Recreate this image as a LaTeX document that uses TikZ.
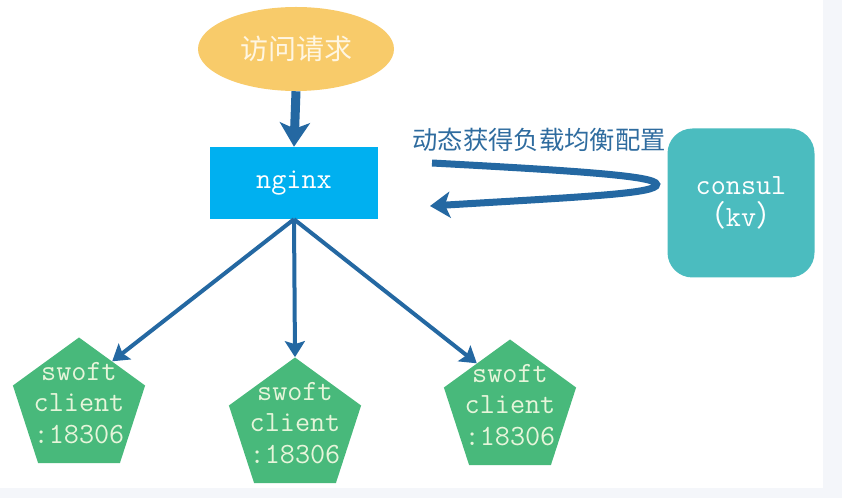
\documentclass[tikz,border=0pt]{standalone}
\usepackage{fontspec}
\newfontfamily\cjk{Noto Sans CJK SC}
\usetikzlibrary{shapes.geometric,arrows.meta}
\definecolor{reqfill}{HTML}{F8CB6A}
\definecolor{reqtext}{HTML}{FFF6E2}
\definecolor{nginxfill}{HTML}{00B0F0}
\definecolor{consulfill}{HTML}{4BBCBF}
\definecolor{swoftfill}{HTML}{48B97B}
\definecolor{swofttext}{HTML}{E6F5DA}
\definecolor{flowblue}{HTML}{2468A2}
\definecolor{lblblue}{HTML}{2F6C9F}
\definecolor{edgegray}{HTML}{F4F6FA}
\def\px{0.75pt}
\tikzset{
  req/.style={ellipse, fill=reqfill, minimum width=196*\px, minimum height=84*\px,
    text=reqtext, font=\cjk\fontsize{21}{24}\selectfont},
  proxy/.style={rectangle, fill=nginxfill, minimum width=168*\px, minimum height=72*\px,
    text=white, font=\ttfamily\fontsize{22}{24}\selectfont},
  kvstore/.style={rectangle, rounded corners=25*\px, fill=consulfill, minimum width=147*\px,
    minimum height=149*\px, text=white, align=center, font=\ttfamily\fontsize{22}{24}\selectfont},
  pent/.style={regular polygon, regular polygon sides=5, fill=swoftfill, draw=none,
    inner sep=0pt, minimum size=139*\px},
  penttxt/.style={text=swofttext, align=center, inner sep=0pt,
    font=\ttfamily\fontsize{22}{23.5}\selectfont},
  lbl/.style={text=lblblue, font=\cjk\fontsize{19}{22}\selectfont},
  bigflow/.style={flowblue, line width=9*\px, -{Stealth[length=24*\px, width=30*\px, inset=6*\px]}},
  backflow/.style={flowblue, line width=7*\px, -{Stealth[length=20*\px, width=26*\px, inset=5*\px]}},
  edge/.style={flowblue, line width=4*\px, -{Stealth[length=16*\px, width=20*\px, inset=3*\px]}},
}
\begin{document}
\begin{tikzpicture}[x=0.75pt, y=-0.75pt]
  \useasboundingbox (0,0) rectangle (842,498);
  \fill[white] (0,0) rectangle (842,498);
  \fill[edgegray] (823,0) rectangle (842,498);
  \fill[edgegray] (0,488) rectangle (842,498);

  \node[req] (req) at (296,49) {访问请求};
  \node[proxy] (nginx) at (294,183) {nginx};
  \node[kvstore] (consul) at (741,203) {consul\\{\cjk （}kv{\cjk ）}};
  \node[lbl] (cfg) at (539,140) {动态获得负载均衡配置};

  \foreach \i/\x/\y in {1/79/407, 2/295/427, 3/510/409}{
    \node[pent] (p\i) at (\x,\y) {};
    \node[penttxt] (t\i) at (\x,\y-4) {swoft\\client\\:18306};
  }

  \draw[bigflow] (req.south) -- (nginx.north);

  %% config coming back from consul
  \coordinate (cfgout) at (432,163);
  \coordinate (cfgin) at (430,206);
  \draw[backflow] (cfgout) .. controls (600,172) and (664,177) .. (656,186)
    .. controls (648,194) and (580,197) .. (cfgin);

  \foreach \i/\a in {1/side 5, 2/corner 1, 3/side 1}
    \draw[edge] (nginx.south) -- (p\i.\a);
\end{tikzpicture}
\end{document}
